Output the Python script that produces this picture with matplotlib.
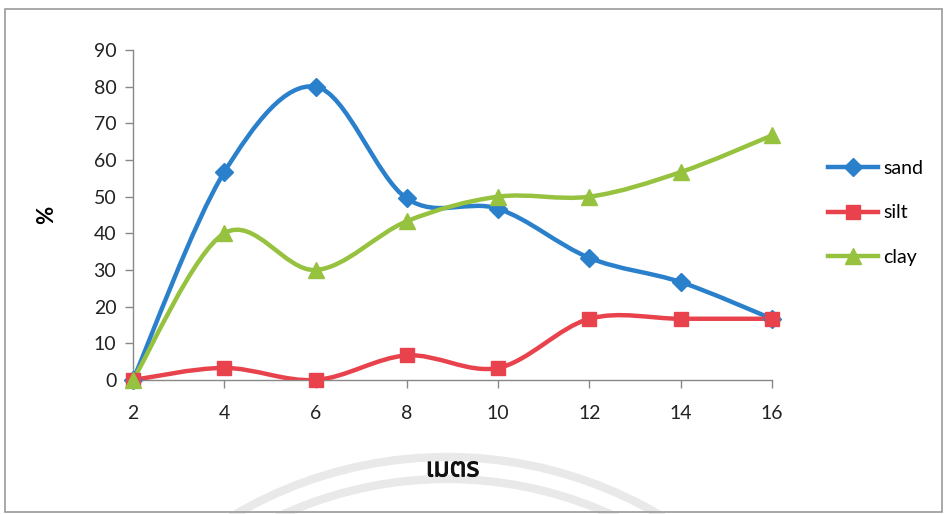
import numpy as np
import matplotlib
matplotlib.use("Agg")
import matplotlib.pyplot as plt
import matplotlib.patheffects as pe
from matplotlib.path import Path
from matplotlib.patches import PathPatch, Rectangle, Arc
from matplotlib.lines import Line2D

# depth (m) and grain-size fractions (%)
depth = [2, 4, 6, 8, 10, 12, 14, 16]
sand = [0, 56.7, 80.0, 49.5, 46.7, 33.3, 26.7, 16.7]
silt = [0, 3.3, 0, 6.7, 3.3, 16.7, 16.7, 16.7]
clay = [0, 40.0, 30.0, 43.3, 50.0, 50.0, 56.7, 66.7]

series = [
    ("sand", sand, "#2B80CC", "D", 9),
    ("silt", silt, "#E8434D", "s", 10),
    ("clay", clay, "#96C23F", "^", 11),
]

plt.rcParams["font.family"] = ["Lato", "DejaVu Sans"]


def smooth_path(x, y):
    # Catmull-Rom style bezier, like spreadsheet "smoothed line"
    pts = np.column_stack([x, y]).astype(float)
    n = len(pts)
    verts = [pts[0]]
    codes = [Path.MOVETO]
    for i in range(n - 1):
        p0 = pts[max(i - 1, 0)]
        p1 = pts[i]
        p2 = pts[i + 1]
        p3 = pts[min(i + 2, n - 1)]
        verts += [p1 + (p2 - p0) / 6, p2 - (p3 - p1) / 6, p2]
        codes += [Path.CURVE4] * 3
    return Path(verts, codes)


fig = plt.figure(figsize=(9.47, 5.14), dpi=100)
ax = fig.add_axes([133 / 947, 1 - 380 / 514, (772 - 133) / 947, 330 / 514])

for name, vals, color, marker, ms in series:
    ax.add_patch(PathPatch(smooth_path(depth, vals), fill=False, edgecolor=color,
                           lw=3.2, capstyle="round", joinstyle="round", zorder=3))
    ax.plot(depth, vals, ls="none", marker=marker, ms=ms, color=color,
            markeredgecolor=color, zorder=4, clip_on=False)

ax.set_xlim(2, 16)
ax.set_ylim(0, 90)
ax.set_xticks(depth)
ax.set_yticks(range(0, 91, 10))
ax.tick_params(axis="both", colors="#888888", labelcolor="#222222", labelsize=14,
               length=6, width=1)
ax.tick_params(axis="x", pad=12)
ax.tick_params(axis="y", pad=6)
for side in ["top", "right"]:
    ax.spines[side].set_visible(False)
for side in ["left", "bottom"]:
    ax.spines[side].set_color("#888888")
    ax.spines[side].set_linewidth(1)

ax.set_ylabel("%", fontsize=16, fontweight="bold", labelpad=26)
xl = ax.set_xlabel("เมตร", fontsize=19, fontweight="bold", labelpad=24,
                   family=["Noto Sans Thai", "Noto Sans", "DejaVu Sans"])
# thai face has no bold cut, thicken it a little with a stroke
xl.set_path_effects([pe.withStroke(linewidth=0.7, foreground="#111111")])
xl.set_color("#111111")

handles = [Line2D([], [], color=c, lw=3.2, marker=m, ms=ms, markeredgecolor=c)
           for _, _, c, m, ms in series]
fig.legend(handles, [s[0] for s in series], loc="center left",
           bbox_to_anchor=(810 / 947, 1 - 213 / 514), frameon=False,
           fontsize=14, handlelength=2.6, handletextpad=0.25, labelspacing=1.42)

# watermark arcs
for r in (419, 397):
    fig.add_artist(Arc((447 / 947, 1 - 876 / 514), 2 * r / 947, 2 * r / 514,
                       theta1=0, theta2=180, color="#e9e9e9", lw=6,
                       transform=fig.transFigure, zorder=0))

# chart frame
fig.add_artist(Rectangle((5 / 947, 2 / 514), 937 / 947, 503 / 514, fill=False,
                         edgecolor="#9a9a9a", lw=1.2, transform=fig.transFigure))

fig.savefig("out.png", dpi=100)
